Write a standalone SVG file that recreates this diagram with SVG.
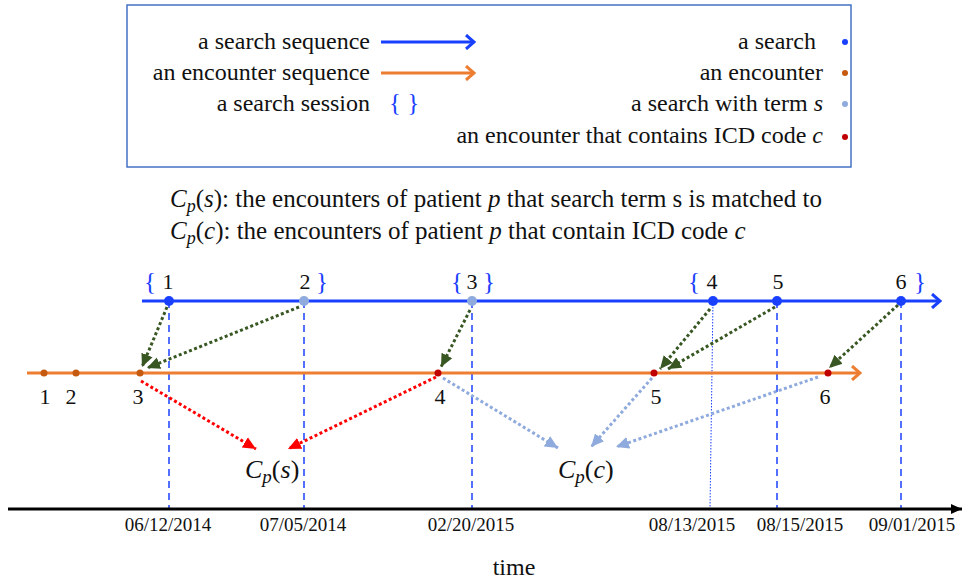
<svg xmlns="http://www.w3.org/2000/svg" width="963" height="585" viewBox="0 0 963 585">
<style>
.t{font-family:"Liberation Serif","Times New Roman",serif;fill:#111}
.lg{font-size:24px}
.fm{font-size:25px}
.num{font-size:22px}
.br{font-size:25px;fill:#1a40ff}
.dt{font-size:19px}
.it{font-style:italic}
.bl{stroke:#1a40ff;stroke-width:3;fill:none}
.or{stroke:#ed7d31;stroke-width:3;fill:none}
.vd{stroke:#1a40ff;stroke-width:1.5;stroke-dasharray:7 5;fill:none}
.vt{stroke:#1a40ff;stroke-width:1;stroke-dasharray:1.5 1.5;fill:none}
.g{stroke:#385723;stroke-width:3;stroke-dasharray:3 2.5;fill:none;marker-end:url(#ag)}
.r{stroke:#ff0000;stroke-width:3;stroke-dasharray:3 2.5;fill:none;marker-end:url(#ar)}
.lb{stroke:#8faadc;stroke-width:3;stroke-dasharray:3 2.5;fill:none;marker-end:url(#alb)}
</style>
<defs>
<marker id="ag" markerUnits="userSpaceOnUse" markerWidth="14" markerHeight="14" viewBox="0 0 14 14" refX="13" refY="7" orient="auto"><path d="M0,1 L13,7 L0,13 Z" fill="#385723"/></marker>
<marker id="ar" markerUnits="userSpaceOnUse" markerWidth="14" markerHeight="14" viewBox="0 0 14 14" refX="13" refY="7" orient="auto"><path d="M0,1 L13,7 L0,13 Z" fill="#ff0000"/></marker>
<marker id="alb" markerUnits="userSpaceOnUse" markerWidth="14" markerHeight="14" viewBox="0 0 14 14" refX="13" refY="7" orient="auto"><path d="M0,1 L13,7 L0,13 Z" fill="#8faadc"/></marker>
<marker id="ab" markerUnits="userSpaceOnUse" markerWidth="16" markerHeight="16" viewBox="0 0 16 16" refX="14" refY="8" orient="auto"><path d="M6,1 L14,8 L6,15" fill="none" stroke="#1a40ff" stroke-width="3"/></marker>
<marker id="ao" markerUnits="userSpaceOnUse" markerWidth="16" markerHeight="16" viewBox="0 0 16 16" refX="14" refY="8" orient="auto"><path d="M6,1 L14,8 L6,15" fill="none" stroke="#ed7d31" stroke-width="3"/></marker>
<marker id="ak" markerUnits="userSpaceOnUse" markerWidth="12" markerHeight="12" viewBox="0 0 12 12" refX="11" refY="6" orient="auto"><path d="M0,1 L11,6 L0,11 Z" fill="#000"/></marker>
</defs>
<rect width="963" height="585" fill="#fff"/>

<g id="legend">
<rect x="127" y="5" width="724" height="162" fill="#fff" stroke="#4472c4" stroke-width="1.5"/>
<text class="t lg" x="370" y="49" text-anchor="end">a search sequence</text>
<line class="bl" x1="381" y1="42" x2="474" y2="42" marker-end="url(#ab)"/>
<text class="t lg" x="370" y="80" text-anchor="end">an encounter sequence</text>
<line class="or" x1="381" y1="73" x2="474" y2="73" marker-end="url(#ao)"/>
<text class="t lg" x="370" y="111" text-anchor="end">a search session</text>
<text class="t br" x="389" y="111">{ }</text>
<text class="t lg" x="816" y="49" text-anchor="end">a search</text>
<circle cx="845" cy="42" r="3" fill="#1a40ff"/>
<text class="t lg" x="823" y="80" text-anchor="end">an encounter</text>
<circle cx="845" cy="73" r="3" fill="#c55a11"/>
<text class="t lg" x="823" y="111" text-anchor="end">a search with term <tspan class="it">s</tspan></text>
<circle cx="845" cy="104" r="3" fill="#8faadc"/>
<text class="t lg" x="823" y="143" text-anchor="end">an encounter that contains ICD code <tspan class="it">c</tspan></text>
<circle cx="845" cy="137" r="3" fill="#c00000"/>
</g>

<g id="definitions">
<text class="t fm" x="170" y="207"><tspan class="it">C</tspan><tspan class="it" font-size="18" dy="5">p</tspan><tspan dy="-5">(</tspan><tspan class="it">s</tspan>): the encounters of patient <tspan class="it">p</tspan> that search term s is matched to</text>
<text class="t fm" x="170" y="239"><tspan class="it">C</tspan><tspan class="it" font-size="18" dy="5">p</tspan><tspan dy="-5">(</tspan><tspan class="it">c</tspan>): the encounters of patient <tspan class="it">p</tspan> that contain ICD code <tspan class="it">c</tspan></text>
</g>

<g id="connectors">
<line class="vd" x1="169" y1="301" x2="169" y2="509"/>
<line class="vd" x1="304" y1="301" x2="304" y2="509"/>
<line class="vd" x1="472" y1="301" x2="472" y2="509"/>
<line class="vt" x1="713" y1="301" x2="710" y2="509"/>
<line class="vd" x1="777" y1="301" x2="777" y2="509"/>
<line class="vd" x1="901" y1="301" x2="901" y2="509"/>
<line class="bl" x1="142" y1="301" x2="940" y2="301" marker-end="url(#ab)"/>
<line class="or" x1="27" y1="373" x2="860" y2="373" marker-end="url(#ao)"/>
<line x1="8" y1="509" x2="962" y2="509" stroke="#000" stroke-width="3" marker-end="url(#ak)"/>
<line class="g" x1="167" y1="307" x2="142" y2="367"/>
<line class="g" x1="299" y1="307" x2="147" y2="368"/>
<line class="g" x1="470" y1="310" x2="441" y2="367"/>
<line class="g" x1="710" y1="309" x2="660" y2="369"/>
<line class="g" x1="775" y1="307" x2="668" y2="369"/>
<line class="g" x1="898" y1="305" x2="829" y2="368"/>
<line class="r" x1="141" y1="381" x2="256" y2="449"/>
<line class="r" x1="436" y1="377" x2="288" y2="449"/>
<line class="lb" x1="443" y1="378" x2="558" y2="448"/>
<line class="lb" x1="652" y1="378" x2="591" y2="447"/>
<line class="lb" x1="818" y1="377" x2="616" y2="447"/>
</g>

<g id="searches">
<g id="search1"><circle cx="169" cy="301" r="5" fill="#1a40ff"/><text class="t br" x="150" y="290" text-anchor="middle">{</text><text class="t num" x="168" y="289" text-anchor="middle">1</text></g>
<g id="search2"><circle cx="304" cy="301" r="5" fill="#8faadc"/><text class="t num" x="305" y="289" text-anchor="middle">2</text><text class="t br" x="322" y="290" text-anchor="middle">}</text></g>
<g id="search3"><circle cx="472" cy="301" r="5" fill="#8faadc"/><text class="t br" x="457" y="290" text-anchor="middle">{</text><text class="t num" x="472" y="289" text-anchor="middle">3</text><text class="t br" x="489" y="290" text-anchor="middle">}</text></g>
<g id="search4"><circle cx="713" cy="301" r="5" fill="#1a40ff"/><text class="t br" x="694" y="290" text-anchor="middle">{</text><text class="t num" x="712" y="289" text-anchor="middle">4</text></g>
<g id="search5"><circle cx="777" cy="301" r="5" fill="#1a40ff"/><text class="t num" x="778" y="289" text-anchor="middle">5</text></g>
<g id="search6"><circle cx="901" cy="301" r="5" fill="#1a40ff"/><text class="t num" x="901" y="289" text-anchor="middle">6</text><text class="t br" x="920" y="290" text-anchor="middle">}</text></g>
</g>

<g id="encounters">
<g id="enc1"><circle cx="44" cy="373" r="3.5" fill="#c55a11"/><text class="t num" x="45" y="404" text-anchor="middle">1</text></g>
<g id="enc2"><circle cx="76" cy="373" r="3.5" fill="#c55a11"/><text class="t num" x="71" y="404" text-anchor="middle">2</text></g>
<g id="enc3"><circle cx="140" cy="373" r="3.5" fill="#c55a11"/><text class="t num" x="138" y="404" text-anchor="middle">3</text></g>
<g id="enc4"><circle cx="438" cy="373" r="3.5" fill="#c00000"/><text class="t num" x="440" y="404" text-anchor="middle">4</text></g>
<g id="enc5"><circle cx="654" cy="373" r="3.5" fill="#c00000"/><text class="t num" x="656" y="404" text-anchor="middle">5</text></g>
<g id="enc6"><circle cx="828" cy="373" r="3.5" fill="#c00000"/><text class="t num" x="825" y="404" text-anchor="middle">6</text></g>
</g>

<g id="cps"><text class="t" font-size="26" x="245" y="478"><tspan class="it">C</tspan><tspan class="it" font-size="19" dy="5">p</tspan><tspan dy="-5">(</tspan><tspan class="it">s</tspan>)</text></g>
<g id="cpc"><text class="t" font-size="26" x="558" y="478"><tspan class="it">C</tspan><tspan class="it" font-size="19" dy="5">p</tspan><tspan dy="-5">(</tspan><tspan class="it">c</tspan>)</text></g>

<g id="dates">
<text class="t dt" x="168" y="531" text-anchor="middle">06/12/2014</text>
<text class="t dt" x="303" y="531" text-anchor="middle">07/05/2014</text>
<text class="t dt" x="471" y="531" text-anchor="middle">02/20/2015</text>
<text class="t dt" x="692" y="531" text-anchor="middle">08/13/2015</text>
<text class="t dt" x="800" y="531" text-anchor="middle">08/15/2015</text>
<text class="t dt" x="912" y="531" text-anchor="middle">09/01/2015</text>
<text class="t" font-size="24" x="514" y="575" text-anchor="middle">time</text>
</g>
</svg>
